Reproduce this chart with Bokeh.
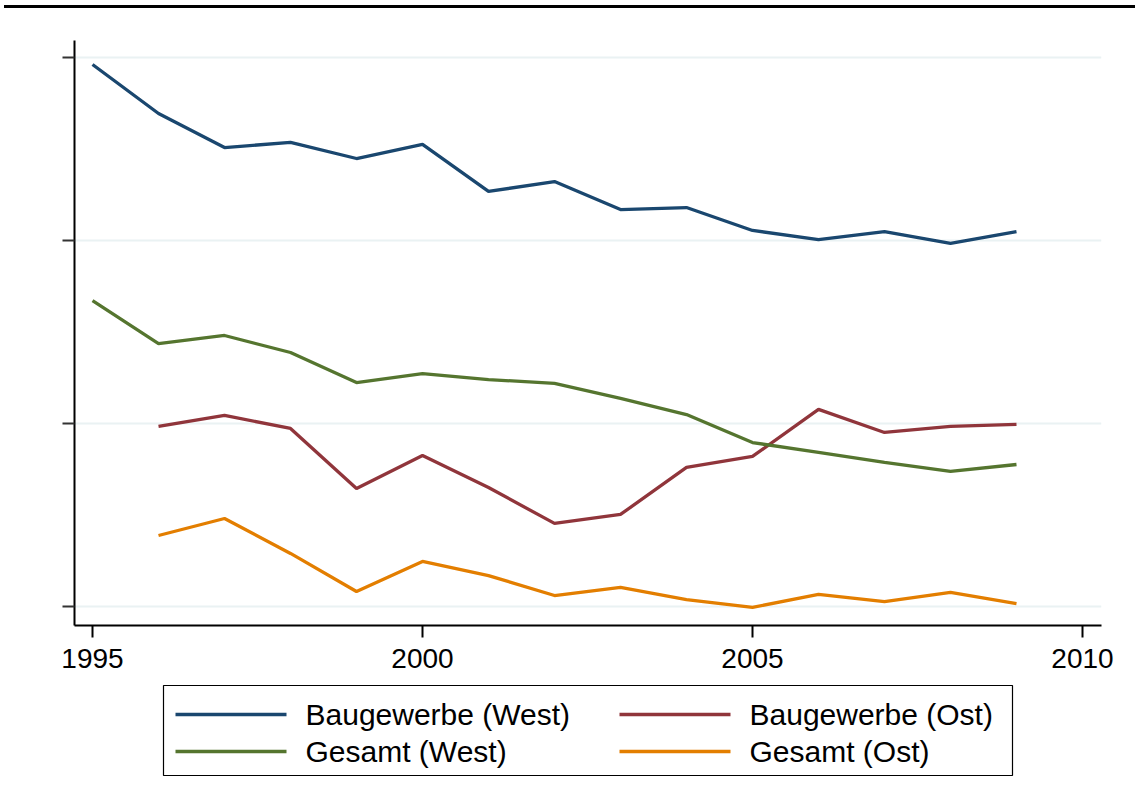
from bokeh.plotting import figure
from bokeh.models import Range1d, FixedTicker, ColumnDataSource, Div
from bokeh.layouts import column
from bokeh.core.properties import value
from bokeh.embed import file_html
from bokeh.resources import INLINE

# ---- data (y axis carries no labels, scale is relative) ----
years_west = [1995, 1996, 1997, 1998, 1999, 2000, 2001, 2002, 2003, 2004, 2005, 2006, 2007, 2008, 2009]
years_ost = [1996, 1997, 1998, 1999, 2000, 2001, 2002, 2003, 2004, 2005, 2006, 2007, 2008, 2009]

bau_west = [2.962, 2.694, 2.508, 2.536, 2.448, 2.525, 2.268, 2.322, 2.169, 2.180, 2.055, 2.005, 2.049, 1.984, 2.049]
ges_west = [1.672, 1.437, 1.481, 1.388, 1.224, 1.273, 1.240, 1.219, 1.137, 1.049, 0.896, 0.842, 0.787, 0.738, 0.776]
bau_ost = [0.984, 1.044, 0.973, 0.645, 0.825, 0.650, 0.454, 0.503, 0.760, 0.820, 1.077, 0.951, 0.984, 0.995]
ges_ost = [0.388, 0.481, 0.290, 0.082, 0.246, 0.169, 0.060, 0.104, 0.038, -0.005, 0.066, 0.027, 0.077, 0.016]

series_names = ["Baugewerbe (West)", "Baugewerbe (Ost)", "Gesamt (West)", "Gesamt (Ost)"]
series_colors = ["#1a476f", "#90353b", "#55752f", "#e37e00"]

x_ticks = [1995, 2000, 2005, 2010]
y_ticks = [0, 1, 2, 3]

FONT = "Liberation Sans"
W = 1131
FL, FR = 74, 1101  # frame left / right (page px)

# ---- thick black rule at the top (remnant of the cut-off title area) ----
bar = Div(text='<div style="position:absolute;top:5px;left:4px;width:1131px;height:3px;background:black;"></div>',
          width=W, height=8, margin=0)

# ---- main plot ----
p = figure(width=W, height=672, toolbar_location=None, output_backend="svg",
           x_range=Range1d(1994.727, 2010.288), y_range=Range1d(-0.1038, 3.0929),
           min_border_left=FL, min_border_right=W - FR, min_border_top=32, min_border_bottom=55,
           outline_line_color=None, background_fill_color="white", border_fill_color="white")

p.line(years_west, bau_west, line_color=series_colors[0], line_width=3.3)
p.line(years_ost, bau_ost, line_color=series_colors[1], line_width=3.3)
p.line(years_west, ges_west, line_color=series_colors[2], line_width=3.3)
p.line(years_ost, ges_ost, line_color=series_colors[3], line_width=3.3)

p.xgrid.visible = False
p.ygrid.ticker = FixedTicker(ticks=y_ticks)
p.ygrid.grid_line_color = "#eaf2f3"
p.ygrid.grid_line_width = 2

p.xaxis.ticker = FixedTicker(ticks=x_ticks)
p.xaxis.major_label_text_font = FONT
p.xaxis.major_label_text_font_size = "28px"
p.xaxis.major_label_text_color = "black"
p.xaxis.major_tick_out = 12
p.xaxis.major_tick_in = 0
p.xaxis.minor_tick_line_color = None
p.xaxis.major_label_standoff = 11
p.xaxis.axis_line_width = 2
p.xaxis.major_tick_line_width = 2
p.xaxis.axis_line_color = "black"
p.xaxis.major_tick_line_color = "black"

p.yaxis.ticker = FixedTicker(ticks=y_ticks)
p.yaxis.major_label_overrides = {t: "" for t in y_ticks}
p.yaxis.major_tick_out = 12
p.yaxis.major_tick_in = 0
p.yaxis.minor_tick_line_color = None
p.yaxis.axis_line_width = 2
p.yaxis.major_tick_line_width = 2
p.yaxis.axis_line_color = "black"
p.yaxis.major_tick_line_color = "#333333"

# ---- legend (own panel; coordinates are page pixels, frame aligned with main plot) ----
LG_TOP, LG_H = 680, 110
lg = figure(width=W, height=LG_H, toolbar_location=None, output_backend="svg",
            x_range=Range1d(FL, FR), y_range=Range1d(LG_TOP + LG_H, LG_TOP),
            min_border_left=FL, min_border_right=W - FR, min_border_top=0, min_border_bottom=0,
            outline_line_color=None, background_fill_color="white", border_fill_color="white")
lg.axis.visible = False
lg.grid.visible = False

lg.quad(left=[163], right=[1012], top=[685], bottom=[775],
        fill_color="white", line_color="black", line_width=1.2)

col_x0 = [175, 619, 175, 619]
row_y = [714, 714, 751, 751]
for i in range(4):
    lg.line([col_x0[i], col_x0[i] + 111], [row_y[i], row_y[i]],
            line_color=series_colors[i], line_width=3.3)

src = ColumnDataSource(dict(x=[c + 130 for c in col_x0], y=row_y, t=series_names))
lg.text(x="x", y="y", text="t", source=src, text_font=value(FONT),
        text_font_size="30px", text_color="black",
        text_align="left", text_baseline="middle")

layout = column(bar, p, lg, spacing=0)
open("out.html", "w").write(file_html(layout, INLINE))
